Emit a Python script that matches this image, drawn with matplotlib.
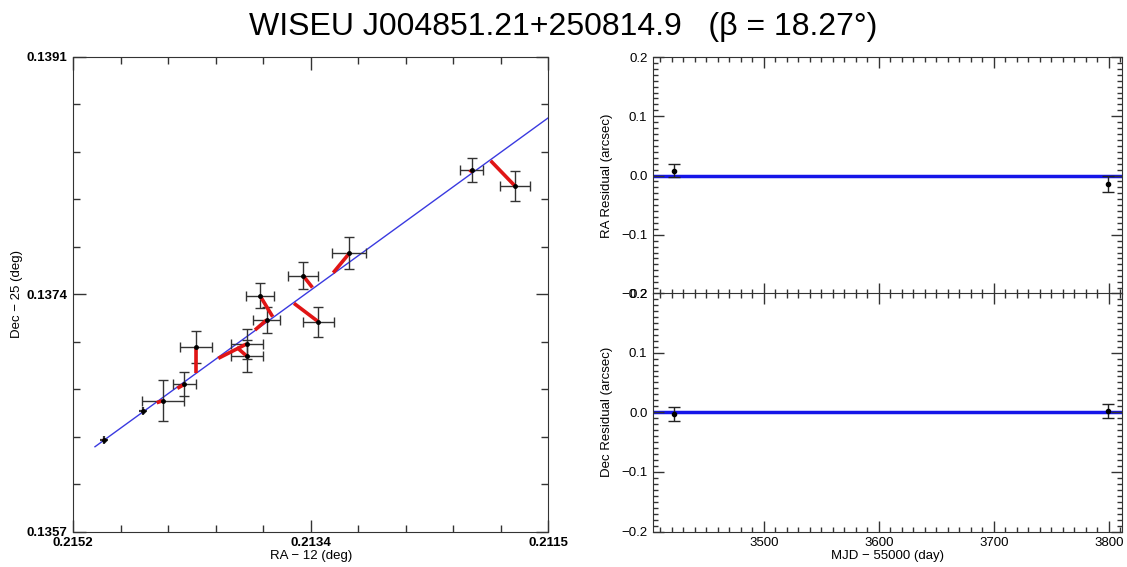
import matplotlib
matplotlib.use("Agg")
import matplotlib.pyplot as plt
import numpy as np
from matplotlib.ticker import FixedLocator, MultipleLocator

plt.rcParams["font.family"] = ["Liberation Sans", "DejaVu Sans"]

TITLE = "WISEU J004851.21+250814.9   (\u03b2 = 18.27\u00b0)"

# --- astrometry: observed positions (RA - 12 deg, Dec - 25 deg) ---
ra_obs = [0.214971, 0.214664, 0.214513, 0.214345, 0.214254, 0.213859, 0.213859,
          0.213703, 0.213755, 0.213420, 0.213300, 0.213059, 0.212105, 0.211767]
dec_obs = [0.136355, 0.136563, 0.136637, 0.136754, 0.137023, 0.137043, 0.136957,
           0.137215, 0.137389, 0.137533, 0.137202, 0.137692, 0.138289, 0.138174]
ra_err = [0.000031, 0.000031, 0.000162, 0.000091, 0.000125, 0.000125, 0.000125,
          0.000104, 0.000109, 0.000117, 0.000119, 0.000132, 0.000091, 0.000117]
dec_err = [0.000029, 0.000029, 0.000145, 0.000086, 0.000115, 0.000107, 0.000115,
           0.000095, 0.000092, 0.000100, 0.000107, 0.000115, 0.000084, 0.000107]

# model positions at each epoch (ends of the red segments)
ra_fit = [0.214978, 0.214667, 0.214560, 0.214399, 0.214254, 0.214080, 0.213936,
          0.213794, 0.213656, 0.213346, 0.213490, 0.213184, 0.212118, 0.211957]
dec_fit = [0.136348, 0.136566, 0.136622, 0.136725, 0.136833, 0.136940, 0.137019,
           0.137143, 0.137238, 0.137447, 0.137334, 0.137553, 0.138271, 0.138355]

# fitted motion track
ra_track = [0.215041, 0.211510]
dec_track = [0.136307, 0.138661]

ra_lim = [0.21521, 0.21151]
dec_lim = [0.1357, 0.1391]
ra_ticks = [0.21521, 0.21336, 0.21151]
ra_tick_labels = ["0.2152", "0.2134", "0.2115"]
dec_ticks = [0.1357, 0.1374, 0.1391]
dec_tick_labels = ["0.1357", "0.1374", "0.1391"]

# --- residuals ---
mjd = [3422, 3799]
ra_resid = [0.008, -0.015]
ra_resid_err = [0.011, 0.0135]
dec_resid = [-0.003, 0.002]
dec_resid_err = [0.011, 0.011]
resid_ticks = [-0.2, -0.1, 0.0, 0.1, 0.2]
mjd_ticks = [3500, 3600, 3700, 3800]

W, H = 1127, 567
fig = plt.figure(figsize=(W / 100, H / 100), dpi=100)
fig.text(0.5, 0.952, TITLE, ha="center", va="center", fontsize=23)

# ---------------- left: sky track ----------------
ax = fig.add_axes([73.3 / W, 35.5 / H, 474.7 / W, 474.8 / H])
ax.plot(ra_track, dec_track, color="#3a3ae0", lw=1.0, zorder=1)
for x, y, ex, ey in zip(ra_obs, dec_obs, ra_err, dec_err):
    # tiny error bars are drawn as a bare cross, no caps
    cap = 3.5 if ex > 0.00005 else 0
    lw = 1.0 if ex > 0.00005 else 1.6
    ax.errorbar(x, y, xerr=ex, yerr=ey, fmt="none", ecolor="#333333",
                elinewidth=lw, capsize=cap, capthick=1.0, zorder=2)
for x0, y0, x1, y1 in zip(ra_obs, dec_obs, ra_fit, dec_fit):
    ax.plot([x0, x1], [y0, y1], color="#e01515", lw=2.6,
            solid_capstyle="butt", zorder=3)
ax.plot(ra_obs, dec_obs, "o", color="black", ms=2.5, zorder=4)

ax.set_xlim(ra_lim)
ax.set_ylim(dec_lim)
ax.set_xticks(ra_ticks, ra_tick_labels)
ax.set_yticks(dec_ticks, dec_tick_labels)
ax.xaxis.set_minor_locator(FixedLocator(np.linspace(ra_lim[0], ra_lim[1], 11)))
ax.yaxis.set_minor_locator(FixedLocator(np.linspace(dec_lim[0], dec_lim[1], 11)))
ax.tick_params(which="both", direction="in", top=True, right=True,
               color="#333333", width=1.0)
ax.tick_params(which="major", length=9, labelsize=9.5, pad=4)
ax.tick_params(which="minor", length=5)
for lab in ax.get_xticklabels() + ax.get_yticklabels():
    lab.set_fontweight("bold")
ax.set_xlabel("RA \u2212 12 (deg)", fontsize=9.5, labelpad=1)
ax.set_ylabel("Dec \u2212 25 (deg)", fontsize=9.5, labelpad=3)
for s in ax.spines.values():
    s.set_color("#333333")

# ---------------- right: residuals ----------------
ax_ra = fig.add_axes([653 / W, (H - 294) / H, 469 / W, 237 / H])
ax_dec = fig.add_axes([653 / W, 35.5 / H, 469 / W, 238.5 / H])

for a, r, e, lab in [(ax_ra, ra_resid, ra_resid_err, "RA Residual (arcsec)"),
                     (ax_dec, dec_resid, dec_resid_err, "Dec Residual (arcsec)")]:
    a.axhline(0.0, color="#1515e8", lw=2.5, zorder=1)
    a.errorbar(mjd, r, yerr=e, fmt="o", color="black", ms=3,
               ecolor="#222222", elinewidth=1.0, capsize=4, capthick=1.0, zorder=2)
    a.set_xlim(3403.5, 3811.5)
    a.set_ylim(-0.2, 0.2)
    a.set_yticks(resid_ticks)
    a.set_xticks(mjd_ticks)
    a.xaxis.set_minor_locator(MultipleLocator(10))
    a.yaxis.set_minor_locator(MultipleLocator(0.01))
    a.tick_params(which="both", direction="in", top=True, right=True,
                  color="#333333", width=1.0)
    a.tick_params(which="major", length=8, labelsize=9.5, pad=4)
    a.tick_params(which="minor", length=3.5)
    a.set_ylabel(lab, fontsize=9.5, labelpad=6)
    for s in a.spines.values():
        s.set_color("#333333")

ax_ra.tick_params(labelbottom=False)
ax_dec.set_xlabel("MJD \u2212 55000 (day)", fontsize=9.5, labelpad=1)

fig.savefig("out.png", dpi=100)
